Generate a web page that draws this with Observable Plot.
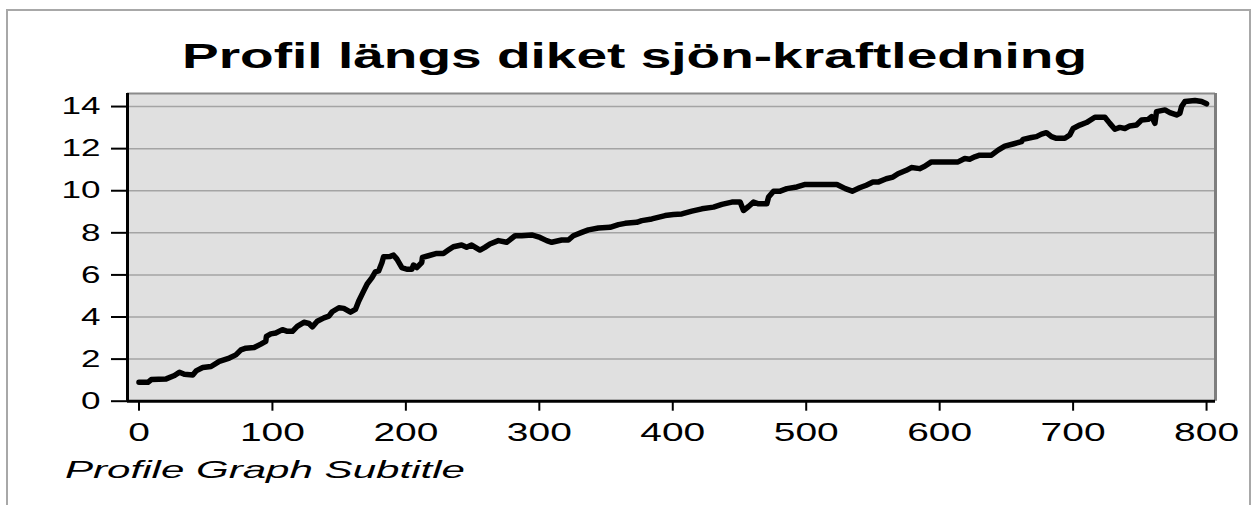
<!DOCTYPE html>
<html>
<head>
<meta charset="utf-8">
<script src="https://cdn.jsdelivr.net/npm/d3@7"></script>
<script src="https://cdn.jsdelivr.net/npm/@observablehq/plot@0.6"></script>
<style>
  html, body { margin: 0; padding: 0; background: #ffffff; }
  #wrap { position: relative; width: 1253px; height: 505px; overflow: hidden; font-family: "Liberation Sans", Arial, sans-serif; }
  #border { position: absolute; left: 6px; top: 9px; width: 1245px; height: 540px; border: 2px solid #a8a8a8; box-sizing: border-box; }
  #title { position: absolute; left: 0; top: 0; width: 1253px; height: 80px; }
  #title span { position: absolute; top: 38.4px; left: 182px; font-size: 35px; line-height: 35px; font-weight: bold; white-space: nowrap; transform-origin: 0 0; color: #000; }
  #chart { position: absolute; left: 0; top: 80px; }
  #subtitle { position: absolute; left: 0; top: 450px; width: 1253px; height: 55px; }
  #subtitle span { position: absolute; top: 8px; left: 65px; font-size: 24px; line-height: 24px; font-style: italic; white-space: nowrap; transform-origin: 0 0; color: #000; }
</style>
</head>
<body>
<div id="wrap">
  <div id="border"></div>
  <div id="title"><span>Profil längs diket sjön-kraftledning</span></div>
  <div id="chart"></div>
  <div id="subtitle"><span>Profile Graph Subtitle</span></div>
</div>
<script>
// ---- data (distance along ditch, elevation) ----
const dist = [
  0, 6.7, 9.2, 20.4, 26.6, 30.3, 34, 40.3, 42.8, 47.8,
  54, 60.2, 67.7, 72.6, 76.4, 80.1, 86.3, 91.3, 95, 95.5,
  98.8, 102.5, 107.5, 111.2, 115, 118.6, 123.6, 127.4, 129.9, 133.6,
  138.6, 142.3, 144.8, 149.8, 153.5, 158.5, 162.2, 164.7, 168.4, 170.9,
  174.6, 177.1, 179.6, 182.1, 183.3, 188.3, 190.8, 193.3, 197, 200.7,
  204.5, 205.7, 208.2, 211.9, 212.4, 216.9, 223.1, 228.1, 231.8, 235.6,
  241.8, 245.5, 249.3, 255.5, 259.2, 263, 269.3, 275.5, 281.8, 286.8,
  294.3, 300.5, 305.5, 309.3, 316.8, 321.8, 325.5, 331.8, 336.8, 344.3,
  353, 359.3, 364.3, 373, 376.8, 384.3, 394.3, 400.5, 406.8, 414.3,
  421.8, 430.5, 436.8, 444.3, 450.5, 453, 456.8, 460.5, 464.3, 470.5,
  471.8, 475.5, 480.5, 485.5, 493, 499.3, 509.3, 523, 529.3, 534.5,
  540, 545, 550, 553.8, 560, 565, 568.8, 575, 578.8, 585,
  588.8, 593.8, 600, 613.8, 618.8, 622.5, 626.3, 630, 638.8, 643.8,
  648.8, 655, 661.3, 662.5, 668.8, 672.5, 676.3, 680, 683.8, 687.5,
  693.8, 697.5, 700, 705, 710, 716.3, 723.8, 727.5, 731.3, 735,
  738.8, 742.5, 747.5, 751.3, 756.3, 758.8, 761.3, 762.5, 768.8, 772.5,
  777.5, 780, 781.3, 783.8, 791.3, 796.3, 800
];
const elev = [
  0.9, 0.9, 1.03, 1.06, 1.22, 1.38, 1.28, 1.25, 1.44, 1.6,
  1.65, 1.89, 2.05, 2.2, 2.44, 2.52, 2.55, 2.71, 2.84, 3.08,
  3.2, 3.24, 3.4, 3.32, 3.32, 3.56, 3.75, 3.69, 3.53, 3.8,
  3.96, 4.04, 4.25, 4.44, 4.41, 4.23, 4.36, 4.76, 5.24, 5.56,
  5.87, 6.14, 6.19, 6.59, 6.86, 6.88, 6.94, 6.75, 6.35, 6.27,
  6.27, 6.47, 6.35, 6.59, 6.83, 6.91, 7.02, 7.02, 7.18, 7.34,
  7.42, 7.31, 7.42, 7.18, 7.31, 7.47, 7.63, 7.55, 7.86, 7.86,
  7.9, 7.78, 7.63, 7.55, 7.66, 7.66, 7.86, 8.02, 8.14, 8.23,
  8.26, 8.39, 8.45, 8.5, 8.58, 8.66, 8.82, 8.87, 8.9, 9.03,
  9.14, 9.22, 9.35, 9.46, 9.46, 9.06, 9.25, 9.46, 9.38, 9.38,
  9.7, 9.98, 9.98, 10.1, 10.18, 10.3, 10.3, 10.3, 10.1, 9.98,
  10.14, 10.26, 10.41, 10.41, 10.57, 10.65, 10.81, 10.97, 11.1, 11.05,
  11.16, 11.37, 11.37, 11.37, 11.53, 11.5, 11.61, 11.69, 11.69, 11.93,
  12.12, 12.22, 12.33, 12.44, 12.53, 12.57, 12.69, 12.76, 12.57, 12.49,
  12.49, 12.65, 12.96, 13.12, 13.24, 13.49, 13.49, 13.2, 12.92, 13.01,
  12.96, 13.08, 13.12, 13.36, 13.39, 13.52, 13.2, 13.76, 13.84, 13.71,
  13.6, 13.68, 14, 14.24, 14.29, 14.24, 14.13
];
const xTicks = [0, 100, 200, 300, 400, 500, 600, 700, 800];
const yTicks = [0, 2, 4, 6, 8, 10, 12, 14];

const profile = dist.map((d, i) => ({dist: d, elev: elev[i]}));

const xMin = -8.6, xMax = 806.7, yMax = 14.62;

const chart = Plot.plot({
  width: 1253,
  height: 370,
  marginLeft: 127,
  marginRight: 38,
  marginTop: 13,
  marginBottom: 49.3,
  x: {domain: [xMin, xMax]},
  y: {domain: [0, yMax]},
  style: {fontFamily: "'Liberation Sans', Arial, sans-serif", color: "#000", background: "transparent", overflow: "visible"},
  marks: [
    Plot.frame({fill: "#e0e0e0"}),
    Plot.ruleY(yTicks.filter(d => d > 0), {stroke: "#a4a4a4", strokeWidth: 1.5}),
    Plot.ruleY([yMax], {stroke: "#8a8a8a", strokeWidth: 2}),
    Plot.ruleX([xMax], {stroke: "#7e7e7e", strokeWidth: 3}),
    Plot.line(profile, {x: "dist", y: "elev", stroke: "#000", strokeWidth: 5.5, strokeLinejoin: "round", strokeLinecap: "round"}),
    Plot.ruleX([xMin], {stroke: "#000", strokeWidth: 3}),
    Plot.ruleY([0], {stroke: "#000", strokeWidth: 3}),
    Plot.axisY(yTicks, {anchor: "left", tickSize: 16, tickPadding: 11, strokeWidth: 2, fontSize: 24, label: null}),
    Plot.axisX(xTicks, {anchor: "bottom", tickSize: 10, tickPadding: 11, strokeWidth: 2, fontSize: 26, label: null})
  ]
});
document.getElementById("chart").appendChild(chart);

// horizontally stretch tick labels around their anchor point
function stretchTexts(sel, target, sample) {
  const texts = chart.querySelectorAll(sel);
  let ref = null;
  texts.forEach(t => { if (t.textContent === sample) ref = t; });
  if (!ref) return;
  const s = target / ref.getComputedTextLength();
  texts.forEach(t => {
    const tr = t.getAttribute("transform") || "";
    const m = tr.match(/translate\(\s*([-\d.e]+)/);
    let cx = m ? +m[1] : 0;
    if (t.hasAttribute("x")) cx += +t.getAttribute("x");
    t.setAttribute("transform", `translate(${cx},0) scale(${s},1) translate(${-cx},0) ${tr}`);
  });
}
stretchTexts('g[aria-label="y-axis tick label"] text', 39, "14");
stretchTexts('g[aria-label="x-axis tick label"] text', 65, "800");

function stretchSpan(span, width) {
  const w = span.getBoundingClientRect().width;
  span.style.transform = `scaleX(${width / w})`;
}
stretchSpan(document.querySelector("#title span"), 905);
stretchSpan(document.querySelector("#subtitle span"), 400);
</script>
</body>
</html>
